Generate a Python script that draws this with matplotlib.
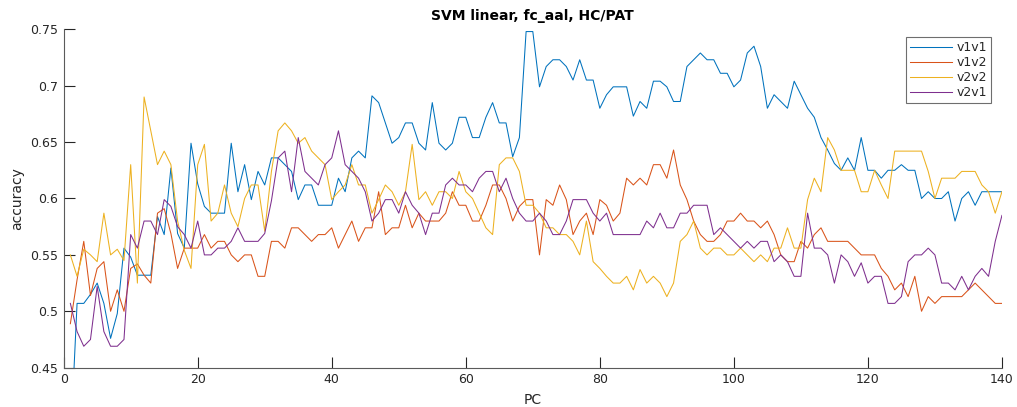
import matplotlib
matplotlib.use("Agg")
import matplotlib.pyplot as plt
import numpy as np

pc = list(range(1, 141))

v1v1 = [0.38, 0.507, 0.507, 0.515, 0.525, 0.507, 0.476, 0.498, 0.556, 0.548,
        0.532, 0.532, 0.532, 0.584, 0.568, 0.627, 0.569, 0.556, 0.649, 0.613,
        0.593, 0.587, 0.587, 0.587, 0.649, 0.606, 0.63, 0.599, 0.624, 0.612,
        0.636, 0.636, 0.63, 0.624, 0.599, 0.612, 0.612, 0.594, 0.594, 0.594,
        0.618, 0.606, 0.636, 0.642, 0.636, 0.691, 0.685, 0.667, 0.649, 0.654,
        0.667, 0.667, 0.649, 0.643, 0.685, 0.649, 0.643, 0.649, 0.672, 0.672,
        0.654, 0.654, 0.672, 0.685, 0.667, 0.667, 0.637, 0.654, 0.748, 0.748,
        0.699, 0.717, 0.723, 0.723, 0.717, 0.705, 0.723, 0.705, 0.705, 0.68,
        0.692, 0.699, 0.699, 0.699, 0.673, 0.686, 0.68, 0.704, 0.704, 0.699,
        0.686, 0.686, 0.717, 0.723, 0.729, 0.723, 0.723, 0.711, 0.711, 0.699,
        0.705, 0.729, 0.735, 0.717, 0.68, 0.692, 0.686, 0.68, 0.704, 0.692,
        0.68, 0.672, 0.654, 0.643, 0.631, 0.625, 0.636, 0.625, 0.654, 0.625,
        0.625, 0.618, 0.625, 0.625, 0.63, 0.625, 0.625, 0.6, 0.606, 0.6,
        0.6, 0.606, 0.58, 0.6, 0.606, 0.594, 0.606, 0.606, 0.606, 0.606]

v1v2 = [0.489, 0.528, 0.562, 0.514, 0.538, 0.544, 0.5, 0.519, 0.5, 0.538,
        0.542, 0.532, 0.525, 0.587, 0.591, 0.569, 0.538, 0.556, 0.556, 0.556,
        0.568, 0.556, 0.562, 0.562, 0.55, 0.544, 0.55, 0.55, 0.531, 0.531,
        0.562, 0.562, 0.556, 0.574, 0.574, 0.568, 0.562, 0.568, 0.568, 0.574,
        0.556, 0.568, 0.58, 0.562, 0.574, 0.574, 0.606, 0.568, 0.574, 0.574,
        0.594, 0.574, 0.587, 0.58, 0.58, 0.58, 0.587, 0.606, 0.594, 0.594,
        0.58, 0.58, 0.594, 0.612, 0.612, 0.6, 0.58, 0.593, 0.599, 0.599,
        0.55, 0.599, 0.594, 0.612, 0.599, 0.568, 0.58, 0.587, 0.568, 0.599,
        0.594, 0.58, 0.587, 0.618, 0.612, 0.618, 0.612, 0.63, 0.63, 0.618,
        0.643, 0.612, 0.599, 0.58, 0.568, 0.562, 0.562, 0.568, 0.58, 0.58,
        0.587, 0.58, 0.58, 0.574, 0.58, 0.568, 0.55, 0.544, 0.544, 0.562,
        0.556, 0.568, 0.574, 0.562, 0.562, 0.562, 0.562, 0.556, 0.55, 0.55,
        0.55, 0.538, 0.531, 0.519, 0.525, 0.513, 0.531, 0.5, 0.513, 0.507,
        0.513, 0.513, 0.513, 0.513, 0.519, 0.525, 0.519, 0.513, 0.507, 0.507]

v2v2 = [0.55, 0.531, 0.555, 0.55, 0.544, 0.587, 0.55, 0.555, 0.545, 0.63,
        0.525, 0.69, 0.66, 0.63, 0.642, 0.63, 0.58, 0.554, 0.538, 0.63,
        0.648, 0.58, 0.587, 0.612, 0.587, 0.575, 0.6, 0.612, 0.612, 0.571,
        0.624, 0.66, 0.667, 0.66, 0.649, 0.654, 0.642, 0.636, 0.63, 0.599,
        0.606, 0.612, 0.63, 0.612, 0.612, 0.587, 0.599, 0.612, 0.606, 0.594,
        0.606, 0.648, 0.599, 0.606, 0.594, 0.606, 0.606, 0.6, 0.624, 0.606,
        0.6, 0.587, 0.574, 0.568, 0.63, 0.636, 0.636, 0.624, 0.594, 0.594,
        0.587, 0.574, 0.574, 0.568, 0.568, 0.562, 0.55, 0.58, 0.544, 0.538,
        0.531, 0.525, 0.525, 0.531, 0.519, 0.537, 0.525, 0.531, 0.525, 0.513,
        0.525, 0.562, 0.568, 0.58, 0.556, 0.55, 0.556, 0.556, 0.55, 0.55,
        0.556, 0.55, 0.544, 0.55, 0.544, 0.556, 0.556, 0.574, 0.556, 0.556,
        0.599, 0.618, 0.606, 0.654, 0.643, 0.625, 0.625, 0.625, 0.606, 0.606,
        0.625, 0.612, 0.6, 0.642, 0.642, 0.642, 0.642, 0.642, 0.624, 0.6,
        0.618, 0.618, 0.618, 0.624, 0.624, 0.624, 0.612, 0.606, 0.587, 0.606]

v2v1 = [0.507, 0.482, 0.469, 0.475, 0.522, 0.482, 0.469, 0.469, 0.475, 0.568,
        0.556, 0.58, 0.58, 0.568, 0.599, 0.593, 0.575, 0.568, 0.556, 0.58,
        0.55, 0.55, 0.556, 0.556, 0.562, 0.574, 0.562, 0.562, 0.562, 0.569,
        0.598, 0.636, 0.642, 0.606, 0.654, 0.624, 0.618, 0.612, 0.63, 0.636,
        0.66, 0.63, 0.624, 0.618, 0.606, 0.58, 0.587, 0.599, 0.599, 0.587,
        0.606, 0.594, 0.587, 0.568, 0.587, 0.587, 0.612, 0.618, 0.612, 0.612,
        0.606, 0.618, 0.624, 0.624, 0.606, 0.618, 0.6, 0.587, 0.58, 0.58,
        0.587, 0.58, 0.568, 0.568, 0.58, 0.599, 0.599, 0.599, 0.587, 0.58,
        0.587, 0.568, 0.568, 0.568, 0.568, 0.568, 0.58, 0.574, 0.587, 0.574,
        0.574, 0.587, 0.587, 0.594, 0.594, 0.594, 0.568, 0.574, 0.568, 0.562,
        0.556, 0.562, 0.556, 0.562, 0.562, 0.544, 0.55, 0.544, 0.531, 0.531,
        0.587, 0.556, 0.556, 0.55, 0.525, 0.55, 0.544, 0.531, 0.543, 0.525,
        0.531, 0.531, 0.507, 0.507, 0.513, 0.544, 0.55, 0.55, 0.556, 0.55,
        0.525, 0.525, 0.519, 0.531, 0.519, 0.531, 0.538, 0.531, 0.562, 0.585]

series_names = ["v1v1", "v1v2", "v2v2", "v2v1"]
colors = ["#0072BD", "#D95319", "#EDB120", "#7E2F8E"]
xticks = [0, 20, 40, 60, 80, 100, 120, 140]
yticks = [0.45, 0.5, 0.55, 0.6, 0.65, 0.7, 0.75]

plt.rcParams['font.family'] = ['DejaVu Sans']
fig = plt.figure(figsize=(10.17, 4.07), dpi=100)
ax = fig.add_axes([0.0626, 0.0966, 0.9226, 0.8314])

for name, data, c in zip(series_names, [v1v1, v1v2, v2v2, v2v1], colors):
    ax.plot(pc, data, color=c, linewidth=0.75, label=name)

ax.set_xlim(0, 140)
ax.set_ylim(0.45, 0.75)
ax.set_xticks(xticks)
ax.set_yticks(yticks)
ax.set_yticklabels(["%g" % v for v in yticks])
ax.set_xticklabels([str(v) for v in xticks])

axcol = "#5a5a5a"
for s in ["top", "right"]:
    ax.spines[s].set_visible(False)
for s in ["left", "bottom"]:
    ax.spines[s].set_color(axcol)
    ax.spines[s].set_linewidth(0.8)
ax.tick_params(direction="in", length=8, width=0.8, color="#262626",
               labelsize=9, labelcolor="#262626", pad=4)

ax.set_title("SVM linear, fc_aal, HC/PAT", fontsize=10, fontweight="bold",
             color="black", pad=7)
ax.set_xlabel("PC", fontsize=10, color="#262626", labelpad=5)
ax.set_ylabel("accuracy", fontsize=10, color="#262626", labelpad=4)

leg = ax.legend(loc="upper right", bbox_to_anchor=(0.9915, 0.985), fontsize=9,
                frameon=True, fancybox=False, handlelength=3.3, handletextpad=0.4,
                borderpad=0.35, labelspacing=0.15, borderaxespad=0.2)
leg.get_frame().set_edgecolor("#4a4a4a")
leg.get_frame().set_linewidth(0.8)
for t in leg.get_texts():
    t.set_color("#262626")

fig.savefig("out.png", dpi=100, facecolor="white")
